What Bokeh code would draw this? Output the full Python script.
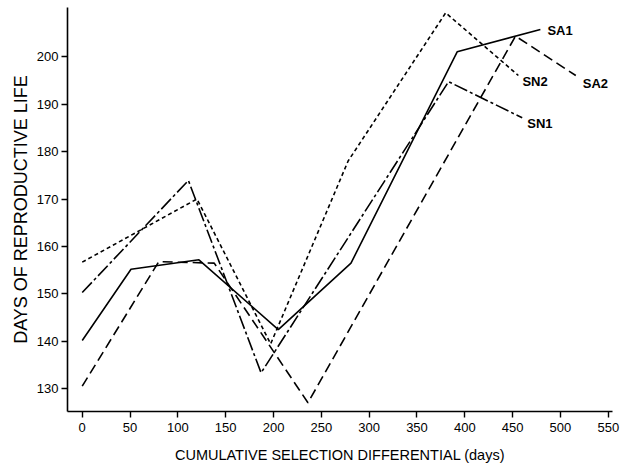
from bokeh.plotting import figure
from bokeh.models import Range1d, FixedTicker, ColumnDataSource, Title
from bokeh.core.properties import value
from bokeh.embed import file_html
from bokeh.resources import INLINE

# ---- data ----
sa1_x = [0, 51, 122, 205, 281, 392, 479]
sa1_y = [140.2, 155.2, 157.2, 142.5, 156.5, 201.0, 205.7]

sn1_x = [0, 111, 187, 383, 460]
sn1_y = [150.3, 173.9, 133.4, 194.7, 187.1]

sn2_x = [0, 120, 197, 278, 380, 456]
sn2_y = [156.7, 170.0, 139.5, 178.0, 209.2, 196.0]

sa2_x = [0, 80, 138, 236, 453, 516]
sa2_y = [130.6, 156.8, 156.5, 127.1, 204.3, 196.0]

series_names = ["SA1", "SN1", "SN2", "SA2"]
x_ticks = [0, 50, 100, 150, 200, 250, 300, 350, 400, 450, 500, 550]
y_ticks = [130, 140, 150, 160, 170, 180, 190, 200]
x_title = "CUMULATIVE SELECTION DIFFERENTIAL (days)"
y_title = "DAYS OF REPRODUCTIVE LIFE"

# ---- styling ----
FONT = "Liberation Sans"
dashes = {"SA1": "solid", "SN1": "14 3 3 3", "SN2": "4 3", "SA2": "10 5"}
label_dx = {"SA1": 7, "SN1": 5, "SN2": 4, "SA2": 7}
label_dy = {"SA1": 1, "SN1": 6, "SN2": 6, "SA2": 8}

p = figure(width=621, height=472, output_backend="svg", toolbar_location=None,
           x_range=Range1d(-15.4, 554.4), y_range=Range1d(125.26, 210.32),
           min_border_left=67, min_border_right=9, min_border_top=7,
           min_border_bottom=61)
p.outline_line_color = None
p.xgrid.visible = False
p.ygrid.visible = False
p.background_fill_color = "white"
p.border_fill_color = "white"

series = {"SA1": (sa1_x, sa1_y), "SN1": (sn1_x, sn1_y),
          "SN2": (sn2_x, sn2_y), "SA2": (sa2_x, sa2_y)}

for name in series_names:
    xs, ys = series[name]
    p.line(xs, ys, line_color="black", line_width=1.6, line_dash=dashes[name])

lab_src = ColumnDataSource(dict(
    x=[series[n][0][-1] for n in series_names],
    y=[series[n][1][-1] for n in series_names],
    text=series_names,
    dx=[label_dx[n] for n in series_names],
    dy=[label_dy[n] for n in series_names],
))
p.text(x="x", y="y", text="text", x_offset="dx", y_offset="dy", source=lab_src,
       text_font=value(FONT), text_font_style="bold", text_font_size="13px",
       text_align="left", text_baseline="middle", text_color="black")

for ax in (p.xaxis, p.yaxis):
    ax.axis_line_color = "black"
    ax.axis_line_width = 1.6
    ax.major_tick_line_color = "black"
    ax.major_tick_line_width = 1.4
    ax.major_tick_in = 0
    ax.major_tick_out = 6
    ax.minor_tick_line_color = None
    ax.major_label_text_font = FONT
    ax.major_label_text_font_size = "13px"
    ax.major_label_text_color = "black"
    ax.axis_label_text_font = FONT
    ax.axis_label_text_font_style = "normal"
    ax.axis_label_text_color = "black"

p.xaxis.ticker = FixedTicker(ticks=x_ticks)
p.yaxis.ticker = FixedTicker(ticks=y_ticks)
p.xaxis.major_label_standoff = 5
p.yaxis.major_label_standoff = 3
p.xaxis.axis_label = x_title
p.xaxis.axis_label_text_font_size = "14.5px"
p.xaxis.axis_label_standoff = 12

# vertical title on the left
p.add_layout(Title(text=y_title, align="center", offset=0, standoff=6,
                   text_font=FONT, text_font_size="18px",
                   text_font_style="normal", text_color="black"), "left")

open("out.html", "w").write(file_html(p, INLINE))
